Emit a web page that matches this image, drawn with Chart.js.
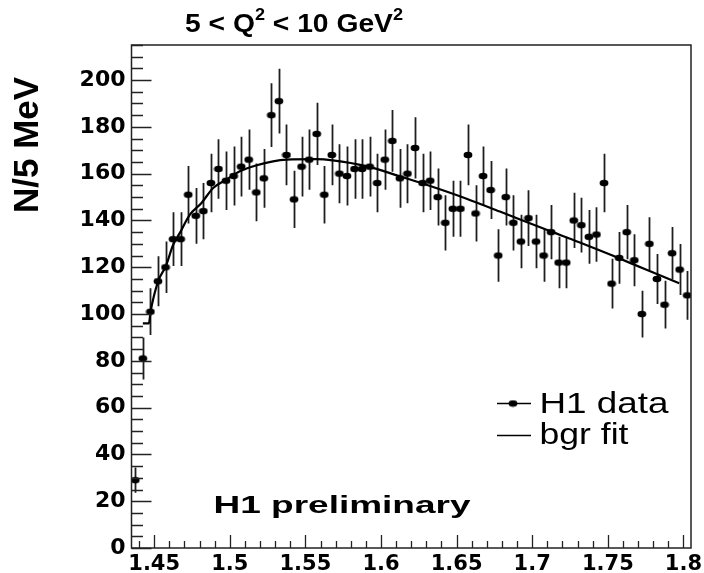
<!DOCTYPE html>
<html>
<head>
<meta charset="utf-8">
<script src="https://cdn.jsdelivr.net/npm/chart.js@4/dist/chart.umd.min.js"></script>
<style>html,body{margin:0;padding:0;background:#fff}canvas{display:block}</style>
</head>
<body>
<canvas id="c" width="704" height="573"></canvas>
<script>
// ---- data ----
const massBins = [1.4375,1.4425,1.4475,1.4525,1.4575,1.4625,1.4675,1.4725,1.4775,1.4825,1.4875,1.4925,1.4975,
  1.5025,1.5075,1.5125,1.5175,1.5225,1.5275,1.5325,1.5375,1.5425,1.5475,1.5525,1.5575,1.5625,1.5675,1.5725,1.5775,1.5825,1.5875,1.5925,1.5975,
  1.6025,1.6075,1.6125,1.6175,1.6225,1.6275,1.6325,1.6375,1.6425,1.6475,1.6525,1.6575,1.6625,1.6675,1.6725,1.6775,1.6825,1.6875,1.6925,1.6975,
  1.7025,1.7075,1.7125,1.7175,1.7225,1.7275,1.7325,1.7375,1.7425,1.7475,1.7525,1.7575,1.7625,1.7675,1.7725,1.7775,1.7825,1.7875,1.7925,1.7975,
  1.8025];
const counts = [29,81,101,114,120,132,132,151,142,144,
  156,162,157,159,163,166,152,158,185,191,
  168,149,163,166,177,151,168,160,159,162,
  162,163,156,166,174,158,160,171,156,157,
  150,139,145,145,168,143,159,153,125,150,
  139,131,141,131,125,135,122,122,140,138,
  133,134,156,113,124,135,123,100,130,115,
  104,126,119,108];
const countErrors = [5.4,9.0,10.0,10.7,11.0,11.5,11.5,12.3,11.9,12.0,
  12.5,12.7,12.5,12.6,12.8,12.9,12.3,12.6,13.6,13.8,
  13.0,12.2,12.8,12.9,13.3,12.3,13.0,12.6,12.6,12.7,
  12.7,12.8,12.5,12.9,13.2,12.6,12.6,13.1,12.5,12.5,
  12.2,11.8,12.0,12.0,13.0,12.0,12.6,12.4,11.2,12.2,
  11.8,11.4,11.9,11.4,11.2,11.6,11.0,11.0,11.8,11.7,
  11.5,11.6,12.5,10.6,11.1,11.6,11.1,10.0,11.4,10.7,
  10.2,11.2,10.9,10.4];
const fitMass = [1.4425,1.4465,1.4476,1.4526,1.4577,1.4625,1.4669,1.4736,1.4813,1.4890,1.4978,1.5066,1.5172,
  1.5375,1.5574,1.5681,1.5904,1.6124,1.6345,1.6566,1.6786,1.7095,1.7315,1.7535,1.7756,1.7972];
const fitValues = [96,96,101,114,120.5,129.5,134.6,142.5,147.5,153.9,157.5,161,163.5,
  166,166.2,165.7,163.2,158.9,154.3,149.3,143.8,136,130.6,124.9,118.9,113.2];
const xTickValues = [1.45,1.5,1.55,1.6,1.65,1.7,1.75,1.8];
const xTickLabels = ['1.45','1.5','1.55','1.6','1.65','1.7','1.75','1.8'];
const yTickValues = [0,20,40,60,80,100,120,140,160,180,200];
const yTickLabels = ['0','20','40','60','80','100','120','140','160','180','200'];
const titleParts = ['5 < Q','2',' < 10 GeV','2'];
const yTitle = 'N/5 MeV';
const legendLabels = ['H1 data','bgr fit'];
const noteText = 'H1 preliminary';

// ---- styling ----
const FONT = '"Liberation Sans", Arial, Helvetica, sans-serif';

// elliptical marker like the reference
const marker = document.createElement('canvas');
marker.width = 10; marker.height = 8;
(function(){const g=marker.getContext('2d');g.fillStyle='#000';g.beginPath();g.ellipse(5,4,4.4,3.3,0,0,Math.PI*2);g.fill();})();

function stretchedText(ctx, text, x, y, font, sx, align){
  ctx.save();
  ctx.font = font;
  ctx.textAlign = align || 'left';
  ctx.translate(x, y);
  ctx.scale(sx, 1);
  ctx.fillText(text, 0, 0);
  ctx.restore();
}

const errorBars = {
  id: 'errorBars',
  beforeDatasetsDraw(chart){
    const {ctx, chartArea:a, scales:{x, y}} = chart;
    ctx.save();
    ctx.beginPath(); ctx.rect(a.left, a.top, a.right-a.left, a.bottom-a.top); ctx.clip();
    ctx.strokeStyle = '#1e1e1e'; ctx.lineWidth = 1.8;
    ctx.beginPath();
    massBins.forEach((m, i) => {
      const px = Math.round(x.getPixelForValue(m)) + 0.5;
      ctx.moveTo(px, y.getPixelForValue(counts[i] - countErrors[i]));
      ctx.lineTo(px, y.getPixelForValue(counts[i] + countErrors[i]));
    });
    ctx.stroke();
    ctx.restore();
  }
};

const frameTicks = {
  id: 'frameTicks',
  afterDraw(chart){
    const {ctx, chartArea:a, scales:{x, y}} = chart;
    ctx.save();
    ctx.strokeStyle = '#222';
    ctx.lineWidth = 1.5;
    ctx.strokeRect(a.left, a.top, a.right-a.left, a.bottom-a.top);
    ctx.lineWidth = 1.3;
    ctx.beginPath();
    for (let v = 0; v <= 215; v += 5) {
      const py = Math.round(y.getPixelForValue(v)) + 0.5;
      const len = (v % 20 === 0) ? 20 : 11.5;
      ctx.moveTo(a.left, py); ctx.lineTo(a.left + len, py);
    }
    for (let k = 144; k <= 180; k++) {
      const px = Math.round(x.getPixelForValue(k/100)) + 0.5;
      const len = (k % 5 === 0) ? 13 : 7;
      ctx.moveTo(px, a.bottom); ctx.lineTo(px, a.bottom - len);
    }
    ctx.stroke();

    // texts
    ctx.fillStyle = '#000';
    ctx.textBaseline = 'alphabetic';
    // title with superscripts
    const mainF = 'bold 25px ' + FONT, supF = 'bold 16px ' + FONT;
    const fonts = [mainF, supF, mainF, supF];
    const lifts = [0, -12, 0, -12];
    let total = 0;
    titleParts.forEach((t, i) => { ctx.font = fonts[i]; total += ctx.measureText(t).width; });
    const sx = 218 / total;
    let cx = 185;
    titleParts.forEach((t, i) => {
      ctx.font = fonts[i];
      const w = ctx.measureText(t).width;
      stretchedText(ctx, t, cx, 31.5 + lifts[i], fonts[i], sx);
      cx += w * sx;
    });
    // y axis title
    ctx.save();
    ctx.font = 'bold 35px ' + FONT;
    ctx.translate(38, 213);
    ctx.rotate(-Math.PI/2);
    ctx.textAlign = 'left';
    ctx.fillText(yTitle, 0, 0);
    ctx.restore();
    // legend
    ctx.strokeStyle = '#000'; ctx.lineWidth = 1.3;
    ctx.beginPath();
    ctx.moveTo(497, 403.5); ctx.lineTo(531, 403.5);
    ctx.moveTo(497, 435.5); ctx.lineTo(531, 435.5);
    ctx.stroke();
    ctx.drawImage(marker, 513 - 5, 403.5 - 4);
    const legF = '29px ' + FONT;
    ctx.font = legF;
    stretchedText(ctx, legendLabels[0], 539.5, 413, legF, 129 / ctx.measureText(legendLabels[0]).width);
    ctx.font = legF;
    stretchedText(ctx, legendLabels[1], 539.5, 444, legF, 89 / ctx.measureText(legendLabels[1]).width);
    // H1 preliminary
    const noteF = 'bold 23px ' + FONT;
    ctx.font = noteF;
    stretchedText(ctx, noteText, 213.5, 512.5, noteF, 257 / ctx.measureText(noteText).width);
    ctx.restore();
  }
};

const xTickFont = {family: '"DejaVu Sans", sans-serif', weight: 'bold', size: 21};
const yTickFont = {family: '"DejaVu Sans", sans-serif', weight: 'bold', size: 22};

new Chart(document.getElementById('c'), {
  type: 'scatter',
  data: {
    datasets: [
      {
        label: legendLabels[0],
        data: massBins.map((m, i) => ({x: m, y: counts[i]})),
        pointStyle: marker,
        pointRadius: 4,
        pointHoverRadius: 4,
        showLine: false,
        backgroundColor: '#000',
        borderColor: '#000'
      },
      {
        label: legendLabels[1],
        data: fitMass.map((m, i) => ({x: m, y: fitValues[i]})),
        showLine: true,
        borderColor: '#000',
        borderWidth: 2.2,
        pointRadius: 0,
        cubicInterpolationMode: 'monotone',
        fill: false
      }
    ]
  },
  options: {
    responsive: false,
    devicePixelRatio: 1,
    animation: false,
    events: [],
    layout: {padding: {left: 0, right: 13, top: 45, bottom: 0}},
    plugins: {legend: {display: false}, title: {display: false}, tooltip: {enabled: false}},
    scales: {
      x: {
        type: 'linear', min: 1.435, max: 1.805,
        grid: {display: false, drawTicks: false},
        border: {display: false},
        afterBuildTicks: s => { s.ticks = xTickValues.map(v => ({value: v})); },
        afterFit: s => { s.height = 25; s.paddingLeft = 0; s.paddingRight = 0; },
        ticks: {
          autoSkip: false, maxRotation: 0, padding: 4, color: '#000', font: xTickFont,
          callback: (v) => { const i = xTickValues.findIndex(t => Math.abs(t - v) < 1e-6); return i >= 0 ? xTickLabels[i] : ''; }
        }
      },
      y: {
        type: 'linear', min: 0, max: 215,
        grid: {display: false, drawTicks: false},
        border: {display: false},
        afterBuildTicks: s => { s.ticks = yTickValues.map(v => ({value: v})); },
        afterFit: s => { s.width = 131.5; s.paddingTop = 0; s.paddingBottom = 0; },
        ticks: {
          autoSkip: false, padding: 6, color: '#000', font: yTickFont,
          callback: (v) => { const i = yTickValues.indexOf(v); return i >= 0 ? yTickLabels[i] : ''; }
        }
      }
    }
  },
  plugins: [errorBars, frameTicks]
});
</script>
</body>
</html>
